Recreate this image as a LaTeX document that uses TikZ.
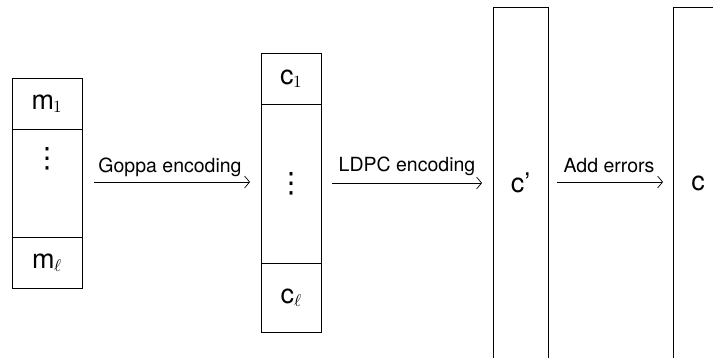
\documentclass[tikz,border=0pt]{standalone}
\usepackage{fontspec}
\setmainfont{TeX Gyre Heros}
\newfontfamily\lmm{Latin Modern Math}
\newfontfamily\djv{DejaVu Sans}
\usetikzlibrary{arrows.meta}
\begin{document}
\begin{tikzpicture}[x=1pt,y=-1pt,
  cell/.style={draw=black,line width=0.8pt},
  big/.style={font=\fontsize{27}{30}\selectfont,inner sep=0pt},
  vd/.style={font=\fontsize{28}{30}\djv,inner sep=0pt},
  lab/.style={font=\fontsize{19.5}{22}\selectfont,inner sep=0pt,anchor=base},
  arr/.style={line width=0.7pt,-{Straight Barb[length=5pt,width=12pt,line width=0.7pt]}}]
\useasboundingbox (0,0) rectangle (713,358);
\newcommand{\subx}[1]{\raisebox{-3pt}{\fontsize{17}{18}\lmm #1}}
\clip (0,0) rectangle (713,358);
% message box
\draw[cell] (12,78) rectangle (82,288);
\draw[cell] (12,129) -- (82,129);
\draw[cell] (12,237) -- (82,237);
\node[big] (m1) at (47,103.5) {m\subx{1}};
\node[vd] (md) at (47,158.5) {⋮};
\node[big] (ml) at (47,262.5) {m\subx{ℓ}};
\coordinate (mR) at (94,182);
% codeword box
\draw[cell] (261,53) rectangle (321,332);
\draw[cell] (261,104) -- (321,104);
\draw[cell] (261,263) -- (321,263);
\node[big] (c1) at (291,78.5) {c\subx{1}};
\node[vd] (cd) at (291,184) {⋮};
\node[big] (cl) at (291,297.5) {c\subx{ℓ}};
\coordinate (cL) at (250,182);
\coordinate (cR) at (332,183);
% c' box
\draw[cell] (493,7) rectangle (548,370);
\node[big] (cp) at (520.5,183) {c'};
\coordinate (cpL) at (482,183);
\coordinate (cpR) at (557,182);
% c box
\draw[cell] (673,7) rectangle (740,370);
\node[big] (cc) at (698,183) {c};
\coordinate (ccL) at (663,182);
% arrows
\draw[arr] (mR) -- (cL);
\node[lab] (g) at (170,173) {Goppa encoding};
\draw[arr] (cR) -- (cpL);
\node[lab] (l) at (407,172) {LDPC encoding};
\draw[arr] (cpR) -- (ccL);
\node[lab] (a) at (609,173) {Add errors};
\end{tikzpicture}
\end{document}
